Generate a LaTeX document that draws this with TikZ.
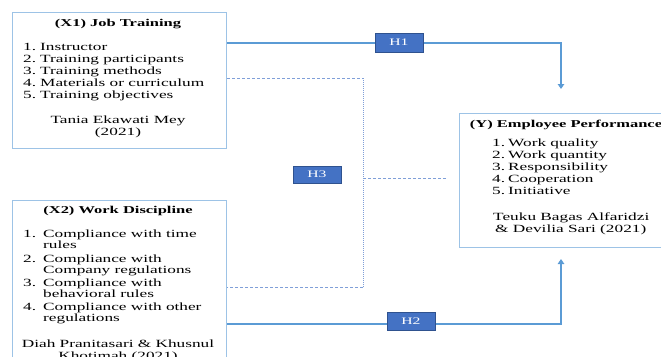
\documentclass[tikz,border=0pt]{standalone}
\usepackage{fontspec}
\setmainfont{Liberation Serif}[FakeStretch=1.57]
\usetikzlibrary{arrows.meta}
\definecolor{boxblue}{HTML}{9DC3E6}
\definecolor{lineblue}{HTML}{5B9BD5}
\definecolor{dashblue}{HTML}{7F9FD8}
\definecolor{hfill}{HTML}{4472C4}
\definecolor{hborder}{HTML}{2F528F}
\begin{document}
\begin{tikzpicture}[x=1pt,y=-1pt,
 varbox/.style={draw=boxblue,line width=1.2pt,inner sep=0pt,anchor=north west},
 conn/.style={draw=lineblue,line width=1.6pt},
 tip/.style={-{Triangle[length=5pt,width=6.5pt]}},
 dashconn/.style={draw=dashblue,line width=0.9pt,dash pattern=on 3pt off 2pt},
 dotconn/.style={draw=dashblue,line width=1pt,dash pattern=on 1pt off 1pt},
 hbox/.style={fill=hfill,draw=hborder,line width=0.8pt,text=white,font=\fontsize{10}{12}\selectfont,minimum width=48pt,inner sep=0pt},
 txt/.style={anchor=base west,inner sep=0pt,font=\fontsize{11}{12}\selectfont},
 ctxt/.style={anchor=base,inner sep=0pt,font=\fontsize{11}{12}\selectfont},
 ttl/.style={anchor=base,inner sep=0pt,font=\fontsize{10.5}{12}\selectfont\bfseries}]
\useasboundingbox (0,0) rectangle (661,356);

% boxes
\node[varbox,minimum width=214pt,minimum height=136pt] (x1) at (12,12) {};
\node[varbox,minimum width=214pt,minimum height=170pt] (x2) at (12,200) {};
\node[varbox,minimum width=220pt,minimum height=134pt] (y) at (459,113) {};

% connectors
\coordinate (h1c) at (561,43);
\coordinate (h1tip) at (561,89);
\draw[conn,tip] (x1.east |- h1c) -- (h1c) -- (h1tip);
\coordinate (h2c) at (561,324);
\coordinate (h2tip) at (561,259);
\draw[conn,tip] (x2.east |- h2c) -- (h2c) -- (h2tip);
\coordinate (d1) at (363,78);
\coordinate (d2) at (363,287);
\coordinate (d3) at (363,178);
\coordinate (d4) at (447,178);
\draw[dashconn] (x1.east |- d1) -- (d1);
\draw[dotconn] (d1) -- (d2);
\draw[dashconn] (d2) -- (x2.east |- d2);
\draw[dashconn] (d3) -- (d4);

% hypothesis labels
\node[hbox,minimum height=19pt] (h1) at (399,42.5) {H1};
\node[hbox,minimum height=17pt] (h3) at (317,174.5) {H3};
\node[hbox,minimum height=18pt] (h2) at (411,321) {H2};

% X1 text
\node[ttl] (x1t) at (118,27) {(X1) Job Training};
\node[txt] (x1i1) at (23,50) {\makebox[17pt][l]{1.}Instructor};
\node[txt] (x1i2) at (23,62) {\makebox[17pt][l]{2.}Training participants};
\node[txt] (x1i3) at (23,74) {\makebox[17pt][l]{3.}Training methods};
\node[txt] (x1i4) at (23,86) {\makebox[17pt][l]{4.}Materials or curriculum};
\node[txt] (x1i5) at (23,98) {\makebox[17pt][l]{5.}Training objectives};
\node[ctxt] (x1a1) at (118,123) {Tania Ekawati Mey};
\node[ctxt] (x1a2) at (118,135) {(2021)};

% X2 text
\node[ttl] (x2t) at (118,213) {(X2) Work Discipline};
\node[txt] (x2i1) at (23,237.5) {\makebox[20pt][l]{1.}Compliance with time};
\node[txt] (x2i1b) at (43,248.5) {rules};
\node[txt] (x2i2) at (23,262.5) {\makebox[20pt][l]{2.}Compliance with};
\node[txt] (x2i2b) at (43,273.5) {Company regulations};
\node[txt] (x2i3) at (23,286.5) {\makebox[20pt][l]{3.}Compliance with};
\node[txt] (x2i3b) at (43,297.5) {behavioral rules};
\node[txt] (x2i4) at (23,310.5) {\makebox[20pt][l]{4.}Compliance with other};
\node[txt] (x2i4b) at (43,321.5) {regulations};
\node[ctxt] (x2a1) at (118,347) {Diah Pranitasari \& Khusnul};
\node[ctxt] (x2a2) at (118,359) {Khotimah (2021)};

% Y text
\node[ttl] (yt) at (566,127) {(Y) Employee Performance};
\node[txt] (yi1) at (492,146) {\makebox[16pt][l]{1.}Work quality};
\node[txt] (yi2) at (492,158) {\makebox[16pt][l]{2.}Work quantity};
\node[txt] (yi3) at (492,170) {\makebox[16pt][l]{3.}Responsibility};
\node[txt] (yi4) at (492,182) {\makebox[16pt][l]{4.}Cooperation};
\node[txt] (yi5) at (492,194) {\makebox[16pt][l]{5.}Initiative};
\node[txt] (ya1) at (493,220) {Teuku Bagas Alfaridzi};
\node[txt] (ya2) at (495,232) {\& Devilia Sari (2021)};
\end{tikzpicture}
\end{document}
